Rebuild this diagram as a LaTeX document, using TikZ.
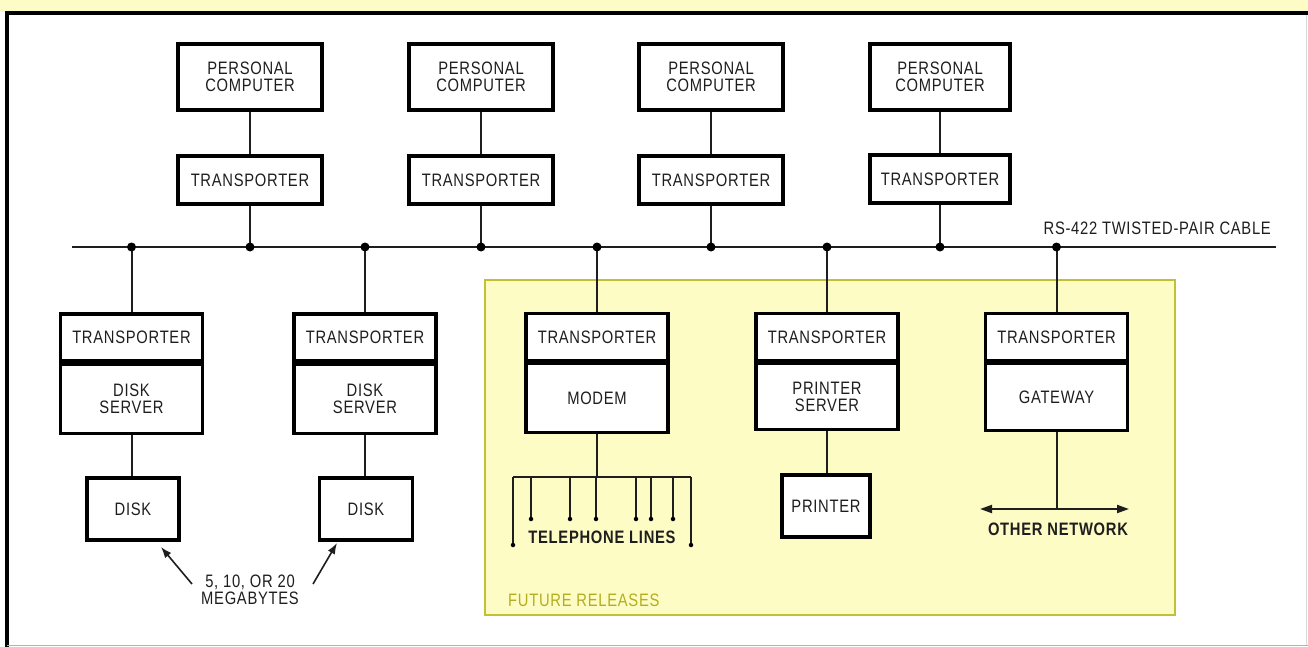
\documentclass[tikz,border=0pt]{standalone}
\usepackage{fontspec}
\setmainfont{Liberation Sans}[FakeStretch=0.82, LetterSpace=4]
\usetikzlibrary{arrows.meta}
\definecolor{paper}{HTML}{FDFBC6}
\definecolor{futfill}{HTML}{FDFCC4}
\definecolor{futline}{HTML}{C4C036}
\definecolor{futtext}{HTML}{B4AE1E}
\definecolor{ink}{HTML}{1E1E1E}
\newcommand{\lbl}{\fontsize{18}{17}\selectfont}
\tikzset{
  box/.style={draw=black, line width=3.2pt, fill=white, inner sep=0pt, align=center, font=\lbl, text=ink},
  pcbox/.style={box, minimum width=144pt, minimum height=66pt},
  trbox/.style={box, minimum width=144pt, minimum height=48pt},
  uppart/.style={box, minimum width=142pt, minimum height=47pt},
  lowpart/.style={box, minimum width=142pt, minimum height=69pt},
  wire/.style={line width=2pt, draw=ink},
  jdot/.style={circle, fill=black, inner sep=0pt, minimum size=9pt},
  tdot/.style={circle, fill=black, inner sep=0pt, minimum size=4.5pt},
  plain/.style={font=\lbl, text=ink, inner sep=0pt, align=center},
}
\begin{document}
\begin{tikzpicture}[x=1pt,y=-1pt]
\useasboundingbox (0,0) rectangle (1308,647);
% frame
\fill[white] (0,0) rectangle (1308,647);
\fill[paper] (0,0) rectangle (1308,12);
\draw[line width=4pt, black] (5,13) -- (1308,13);
\draw[line width=4pt, black] (7,11) -- (7,647);
\draw[line width=1pt, black!30] (7,645) -- (1308,645);
\draw[line width=0.6pt, black!15] (1306,15) -- (1306,645);
% future releases area
\draw[line width=2pt, draw=futline, fill=futfill] (485,280) rectangle (1175,615);
\node[anchor=west, font=\lbl, text=futtext, inner sep=0pt] (fut) at (508,600) {FUTURE RELEASES};
% bus
\coordinate (busL) at (72,247);
\coordinate (busR) at (1276,247);
\draw[wire] (busL) -- (busR);
\node[anchor=south east, plain, inner sep=0pt] (rs) at (1271,235) {RS-422 TWISTED-PAIR CABLE};
% top row
\node[pcbox] (pc1) at (250,77) {PERSONAL\\COMPUTER};
\node[pcbox] (pc2) at (481,77) {PERSONAL\\COMPUTER};
\node[pcbox] (pc3) at (711,77) {PERSONAL\\COMPUTER};
\node[pcbox, minimum width=140pt] (pc4) at (940,77) {PERSONAL\\COMPUTER};
\node[trbox] (tr1) at (250,180) {TRANSPORTER};
\node[trbox] (tr2) at (481,180) {TRANSPORTER};
\node[trbox] (tr3) at (711,180) {TRANSPORTER};
\node[trbox, minimum width=140pt] (tr4) at (940,179) {TRANSPORTER};
\foreach \i in {1,2,3,4}{
  \draw[wire] (pc\i) -- (tr\i);
  \coordinate (jt\i) at (tr\i.south |- busL);
  \draw[wire] (tr\i) -- (jt\i);
  \node[jdot] at (jt\i) {};
}
% bottom row
\node[uppart] (b1t) at (131.5,337.5) {TRANSPORTER};
\node[lowpart, anchor=north] (b1b) at (b1t.south) {DISK\\SERVER};
\node[uppart] (b2t) at (365,337.5) {TRANSPORTER};
\node[lowpart, anchor=north] (b2b) at (b2t.south) {DISK\\SERVER};
\node[uppart] (b3t) at (597,337) {TRANSPORTER};
\node[lowpart, anchor=north] (b3b) at (b3t.south) {MODEM};
\node[uppart] (b4t) at (827,337) {TRANSPORTER};
\node[lowpart, anchor=north, minimum height=66pt] (b4b) at (b4t.south) {PRINTER\\SERVER};
\node[uppart] (b5t) at (1056.5,337) {TRANSPORTER};
\node[lowpart, anchor=north, minimum height=67pt] (b5b) at (b5t.south) {GATEWAY};
\foreach \i in {1,...,5}{
  \coordinate (jb\i) at (b\i t.north |- busL);
  \draw[wire] (jb\i) -- (b\i t);
  \node[jdot] at (jb\i) {};
}
% disks and printer
\node[box, minimum width=92pt, minimum height=62pt] (disk1) at (133,509) {DISK};
\node[box, minimum width=93pt, minimum height=62pt] (disk2) at (366,509) {DISK};
\node[box, minimum width=88pt, minimum height=62pt] (prn) at (826,506) {PRINTER};
\draw[wire] (b1b.south) -- (b1b.south |- disk1.north);
\draw[wire] (b2b.south) -- (b2b.south |- disk2.north);
\draw[wire] (b4b.south) -- (b4b.south |- prn.north);
% megabytes
\node[plain] (mb) at (250,590) {5, 10, OR 20\\MEGABYTES};
\coordinate (m1t) at (192,584);
\coordinate (m1h) at (161,547);
\coordinate (m2t) at (313,584);
\coordinate (m2h) at (337,543);
\draw[wire, line width=1.6pt, -{Latex[length=11pt,width=8pt]}] (m1t) -- (m1h);
\draw[wire, line width=1.6pt, -{Latex[length=11pt,width=8pt]}] (m2t) -- (m2h);
% telephone lines
\coordinate (telL) at (513,477);
\coordinate (telR) at (691,477);
\coordinate (telM) at (b3b.south |- telL);
\draw[wire] (b3b.south) -- (telM);
\draw[wire] (telL) -- (telR);
\draw[wire] (telL) -- ++(0,68);
\draw[wire] (telR) -- ++(0,68);
\foreach \x in {531,570,596,636,651,673}{
  \draw[wire] (\x,477) -- (\x,519);
  \node[tdot] at (\x,519) {};
}
\node[tdot] at (513,545) {};
\node[tdot] at (691,545) {};
\node[plain, font=\lbl\bfseries] (tel) at (602,537) {TELEPHONE LINES};
% other network
\coordinate (onL) at (980,509);
\coordinate (onR) at (1129,509);
\draw[wire, {Triangle[length=12pt,width=8pt]}-{Triangle[length=12pt,width=8pt]}] (onL) -- (onR);
\draw[wire] (b5b.south) -- (b5b.south |- onL);
\node[plain, font=\lbl\bfseries] (onet) at (1058,529) {OTHER NETWORK};
\end{tikzpicture}
\end{document}
